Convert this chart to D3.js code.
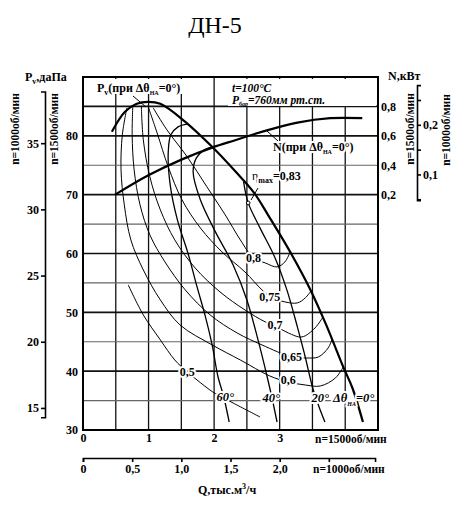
<!DOCTYPE html>
<html>
<head>
<meta charset="utf-8">
<script src="https://cdn.jsdelivr.net/npm/d3@7"></script>
<style>
  body { margin: 0; background: #fff; }
  text { font-family: "Liberation Serif", "DejaVu Serif", serif; font-weight: bold; fill: #000; }
  .halo { paint-order: stroke; stroke: #fff; stroke-width: 4px; stroke-linejoin: round; }
</style>
</head>
<body>
<svg id="chart" width="466" height="516"></svg>
<script>
// Q in thousand m3/h (n=1500), Pv in daPa, N in kW
const qGrid = [0.5, 1, 1.5, 2, 2.5, 3, 3.5, 4];
const pvGrid = [35, 40, 45, 50, 55, 60, 65, 70, 75, 80, 85];
const qTicks = [0, 1, 2, 3];
const pvTicks = [30, 40, 50, 60, 70, 80];
const nTicks = [0.2, 0.4, 0.6, 0.8];
const q1000Ticks = [0, 0.5, 1.0, 1.5, 2.0, 2.5];
const pv1000Ticks = [15, 20, 25, 30, 35];
const n1000Ticks = [0.05, 0.1, 0.15, 0.2, 0.25];

// Pv at guide vane angle 0 (thick) and power N at 0
const pv0 = [[0.44,80.68],[0.64,84.08],[0.82,85.44],[0.99,85.78],[1.18,85.44],[1.56,82.38],[1.97,78.13],
  [2.33,73.88],[2.61,70.31],[2.84,66.22],[3.16,60.27],[3.47,53.81],[3.71,47.86],[3.97,40.71],[4.11,37.14],[4.27,31.36]];
const power0 = [[0.49,0.20],[0.99,0.33],[1.51,0.44],[1.97,0.52],[2.32,0.57],[2.75,0.63],[3.27,0.69],[3.77,0.72],[4.26,0.72]];

// Pv at other guide vane angles
const pv20 = [[2.45,72.18],[2.52,68.61],[2.70,64.35],[2.93,59.25],[3.11,53.81],[3.27,47.52],[3.39,42.41],[3.50,37.31],[3.59,34.25],[3.69,31.36]];
const pv40 = [[1.97,78.13],[1.85,77.62],[1.73,76.26],[1.68,73.88],[1.79,69.12],[2.02,63.67],[2.29,58.06],[2.50,52.11],
  [2.67,45.31],[2.81,39.01],[2.89,35.10],[2.96,31.36]];
const pv60 = [[1.60,82.04],[1.45,81.53],[1.34,80.17],[1.30,77.11],[1.33,71.67],[1.44,65.71],[1.60,60.10],[1.74,54.32],
  [1.86,49.56],[1.97,44.46],[2.06,39.01],[2.14,35.95],[2.23,31.36]];

// efficiency lines
const eff80 = [[1.07,84.76],[1.28,81.02],[1.59,76.43],[1.89,71.33],[2.17,66.56],[2.40,62.31],[2.60,59.25],
  [2.78,58.40],[2.96,57.72],[3.08,58.57],[3.16,60.27]];
const eff75 = [[0.99,85.10],[1.13,80.51],[1.30,74.73],[1.51,69.12],[1.79,64.35],[2.12,60.27],[2.47,56.87],[2.73,53.81],
  [2.86,52.62],[3.08,51.77],[3.27,51.60],[3.39,52.45],[3.48,53.64]];
const eff70 = [[0.89,85.10],[0.92,79.32],[1.02,73.03],[1.18,67.41],[1.40,62.31],[1.71,57.55],[2.09,53.47],[2.47,50.41],
  [2.78,48.37],[2.93,47.69],[3.13,46.50],[3.34,45.82],[3.54,47.35],[3.66,49.22]];
const eff65 = [[0.76,85.10],[0.75,80.17],[0.78,74.22],[0.87,68.27],[1.02,63.16],[1.25,58.57],[1.56,53.81],[1.94,49.56],
  [2.35,46.50],[2.73,44.46],[3.19,42.41],[3.42,42.24],[3.59,42.41],[3.74,43.95],[3.80,45.48]];
const eff60 = [[0.67,84.76],[0.60,80.17],[0.58,74.22],[0.63,68.27],[0.73,62.31],[0.92,57.21],[1.18,52.11],[1.48,47.86],
  [1.97,44.46],[2.40,41.90],[2.85,39.18],[3.13,38.16],[3.39,37.65],[3.62,37.48],[3.85,38.84],[3.97,40.71]];
const eff50 = [[0.69,54.66],[0.92,49.56],[1.18,45.31],[1.40,41.90],[1.59,39.86],[1.74,38.50],[1.98,36.46],[2.12,35.61],
  [2.29,34.59],[2.70,32.21]];

const effLabels = [
  { t: '0,8', q: 2.60, p: 59.25 }, { t: '0,75', q: 2.85, p: 52.62 }, { t: '0,7', q: 2.93, p: 47.86 },
  { t: '0,65', q: 3.18, p: 42.41 }, { t: '0,6', q: 3.13, p: 38.50 }, { t: '0,5', q: 1.59, p: 39.86 }
];
const angleLabels = [
  { t: '60°', q: 2.17, p: 35.6 }, { t: '40°', q: 2.87, p: 35.4 }, { t: '20°', q: 3.62, p: 35.4 }
];

const svg = d3.select('#chart');
const fmt = d => String(d).replace('.', ',');
const fmt1 = d => d === 0 ? '0' : d.toFixed(1).replace('.', ',');

const x = d3.scaleLinear().domain([0, 4.5]).range([83, 378]);
const y = d3.scaleLinear().domain([30, 90]).range([430, 77]);
// N axis: 0 kW at Pv 65, 1 kW at Pv 90
const yN = d3.scaleLinear().domain([0, 1]).range([y(65), y(90)]);
// n=1000 scales (affinity laws)
const x1000 = d3.scaleLinear().domain([0, 2.97]).range([x(0), x(2.97 * 1.5)]);
const y1000 = d3.scaleLinear().domain([14.3, 38.9]).range([y(14.3 * 9 / 4), y(38.9 * 9 / 4)]);
const yN1000 = d3.scaleLinear().domain([0.048, 0.28]).range([yN(0.048 * 27 / 8), yN(0.28 * 27 / 8)]);

// title
svg.append('text').attr('x', 215).attr('y', 33).attr('text-anchor', 'middle')
  .style('font-size', '24px').style('font-weight', 'normal').text('ДН-5');

// grid
const grid = svg.append('g');
grid.selectAll('.vg').data(qGrid).enter().append('line')
  .attr('x1', d => x(d)).attr('x2', d => x(d)).attr('y1', y(30)).attr('y2', y(90))
  .attr('stroke', '#111').attr('stroke-width', 1.3);
grid.selectAll('.hg').data(pvGrid).enter().append('line')
  .attr('x1', x(0)).attr('x2', x(4.5)).attr('y1', d => y(d)).attr('y2', d => y(d))
  .attr('stroke', d => d % 10 === 0 || d === 85 ? '#111' : '#666')
  .attr('stroke-width', d => d % 10 === 0 || d === 85 ? 1.6 : 1.2);
svg.append('rect').attr('x', x(0)).attr('y', y(90)).attr('width', x(4.5) - x(0)).attr('height', y(30) - y(90))
  .attr('fill', 'none').attr('stroke', '#000').attr('stroke-width', 2);

// white blocks behind the top notes
svg.append('rect').attr('x', 94).attr('y', 79).attr('width', 92).attr('height', 15).attr('fill', '#fff');
svg.append('rect').attr('x', 228).attr('y', 79).attr('width', 148).attr('height', 27).attr('fill', '#fff');

// axes
const axLeft = svg.append('g').attr('transform', `translate(${x(0)},0)`)
  .call(d3.axisLeft(y).tickValues(pvTicks).tickSize(0).tickPadding(5).tickFormat(d3.format('d')));
const axBottom = svg.append('g').attr('transform', `translate(0,${y(30)})`)
  .call(d3.axisBottom(x).tickValues(qTicks).tickSize(0).tickPadding(3).tickFormat(d3.format('d')));
const axRight = svg.append('g').attr('transform', `translate(${x(4.5)},0)`)
  .call(d3.axisRight(yN).tickValues(nTicks).tickSize(0).tickPadding(3).tickFormat(fmt));
[axLeft, axBottom, axRight].forEach(a => a.select('.domain').remove());

const axLeft2 = svg.append('g').attr('transform', 'translate(45,0)')
  .call(d3.axisLeft(y1000).tickValues(pv1000Ticks).tickSize(4).tickPadding(2).tickFormat(d3.format('d')));
const axBottom2 = svg.append('g').attr('transform', 'translate(0,458)')
  .call(d3.axisBottom(x1000).tickValues(q1000Ticks).tickSize(4).tickPadding(2)
    .tickFormat(d => d === 2.5 ? '' : fmt1(d)));
const axRight2 = svg.append('g').attr('transform', 'translate(417,0)')
  .call(d3.axisRight(yN1000).tickValues(n1000Ticks).tickSize(4).tickPadding(2)
    .tickFormat(d => (d === 0.1 || d === 0.2) ? fmt(d) : ''));

[axLeft, axBottom, axRight, axLeft2, axBottom2, axRight2].forEach(a => {
  a.selectAll('text').style('font-size', '12px').attr('fill', '#000');
  a.selectAll('.domain, line').attr('stroke', '#000').attr('stroke-width', 1.6);
});

// curves
const line = d3.line().x(d => x(d[0])).y(d => y(d[1])).curve(d3.curveCatmullRom.alpha(0.5));
const lineN = d3.line().x(d => x(d[0])).y(d => yN(d[1])).curve(d3.curveCatmullRom.alpha(0.5));
const curves = svg.append('g').attr('fill', 'none').attr('stroke', '#000');

[eff80, eff75, eff70, eff65, eff60, eff50].forEach(c => {
  curves.append('path').attr('d', line(c)).attr('stroke-width', 1);
});
[pv20, pv40, pv60].forEach(c => {
  curves.append('path').attr('d', line(c)).attr('stroke-width', 1.3);
});
curves.append('path').attr('d', line(pv0)).attr('stroke-width', 2.2);
curves.append('path').attr('d', lineN(power0)).attr('stroke-width', 2.2);

// leaders and max efficiency point
curves.append('line').attr('x1', 133).attr('y1', 96).attr('x2', 146).attr('y2', 107).attr('stroke-width', 1);
curves.append('line').attr('x1', 267).attr('y1', 131).attr('x2', 278).attr('y2', 141).attr('stroke-width', 1);
curves.append('line').attr('x1', 258).attr('y1', 188).attr('x2', 251).attr('y2', 200).attr('stroke-width', 1);
curves.append('circle').attr('cx', x(2.52)).attr('cy', y(68.6)).attr('r', 1.8).attr('fill', '#fff').attr('stroke-width', 1);

// line labels
const lab = svg.append('g');
effLabels.forEach(d => {
  lab.append('text').attr('class', 'halo').attr('x', x(d.q)).attr('y', y(d.p) + 4)
    .attr('text-anchor', 'middle').style('font-size', '12px').text(d.t);
});
angleLabels.forEach(d => {
  lab.append('text').attr('class', 'halo').attr('x', x(d.q)).attr('y', y(d.p) + 4)
    .attr('text-anchor', 'middle').style('font-size', '12.5px').style('font-style', 'italic').text(d.t);
});
const a0 = lab.append('text').attr('class', 'halo').attr('x', 333).attr('y', y(35.4) + 4)
  .style('font-size', '12.5px').style('font-style', 'italic');
a0.append('tspan').text('Δθ');
a0.append('tspan').attr('dy', 4).style('font-size', '6px').text('НА');
a0.append('tspan').attr('dy', -4).text('=0°');

// notes
const pvNote = svg.append('text').attr('x', 97).attr('y', 92).style('font-size', '12px');
pvNote.append('tspan').text('P');
pvNote.append('tspan').attr('dy', 3).style('font-size', '8px').text('v');
pvNote.append('tspan').attr('dy', -3).text('(при Δθ');
pvNote.append('tspan').attr('dy', 3).style('font-size', '6px').text('НА');
pvNote.append('tspan').attr('dy', -3).text('=0°)');

const nNote = svg.append('text').attr('class', 'halo').attr('x', 273).attr('y', 151).style('font-size', '12px');
nNote.append('tspan').text('N(при Δθ');
nNote.append('tspan').attr('dy', 3).style('font-size', '6px').text('НА');
nNote.append('tspan').attr('dy', -3).text('=0°)');

const etaNote = svg.append('text').attr('class', 'halo').attr('x', 252).attr('y', 180).style('font-size', '12px');
etaNote.append('tspan').style('font-weight', 'normal').text('η');
etaNote.append('tspan').attr('dy', 3).style('font-size', '8px').text('max');
etaNote.append('tspan').attr('dy', -3).text('=0,83');

svg.append('text').attr('x', 232).attr('y', 92).style('font-size', '11.5px').style('font-style', 'italic').text('t=100°C');
const pNote = svg.append('text').attr('x', 232).attr('y', 104).style('font-size', '11.5px').style('font-style', 'italic');
pNote.append('tspan').text('P');
pNote.append('tspan').attr('dy', 2).style('font-size', '6px').text('бар');
pNote.append('tspan').attr('dy', -2).text('=760мм рт.ст.');

// axis titles
const pvTitle = svg.append('text').attr('x', 25).attr('y', 81).style('font-size', '12px');
pvTitle.append('tspan').text('P');
pvTitle.append('tspan').attr('dy', 3).style('font-size', '8px').text('v');
pvTitle.append('tspan').attr('dy', -3).text(',даПа');
svg.append('text').attr('x', 388).attr('y', 80).style('font-size', '12px').text('N,кВт');

const vLabel = (px, py, t) => svg.append('text')
  .attr('transform', `translate(${px},${py}) rotate(-90)`).attr('text-anchor', 'middle')
  .style('font-size', '11.5px').text(t);
vLabel(19, 129, 'n=1000об/мин');
vLabel(58, 129, 'n=1500об/мин');
vLabel(414, 129, 'n=1500об/мин');
vLabel(450, 130, 'n=1000об/мин');

svg.append('text').attr('x', 315).attr('y', 443).style('font-size', '11.5px').text('n=1500об/мин');
svg.append('text').attr('x', 313).attr('y', 473).style('font-size', '11.5px').text('n=1000об/мин');
const qTitle = svg.append('text').attr('x', 198).attr('y', 494).style('font-size', '12px');
qTitle.append('tspan').text('Q,тыс.м');
qTitle.append('tspan').attr('dy', -5).style('font-size', '8px').text('3');
qTitle.append('tspan').attr('dy', 5).text('/ч');
</script>
</body>
</html>
